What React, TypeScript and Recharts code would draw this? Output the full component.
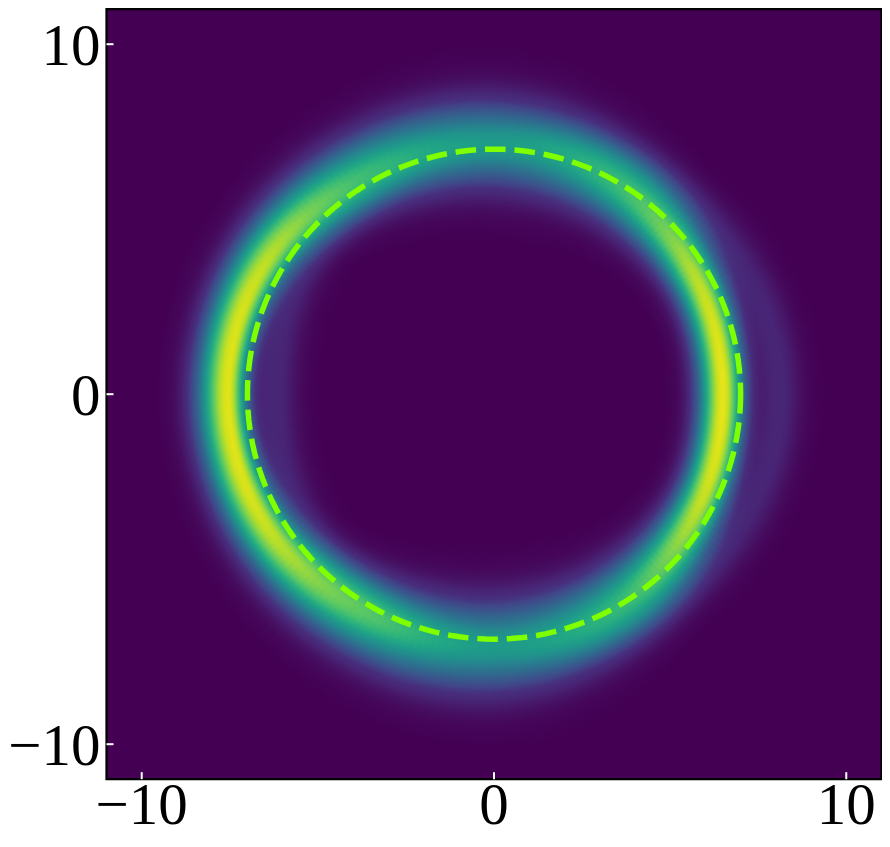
import { ScatterChart, Scatter, XAxis, YAxis, ReferenceArea } from 'recharts';

// axis setup
const DOMAIN: [number, number] = [-11, 11];
const AXIS_TICKS = [-10, 0, 10];

const ANGLES = [0, 30, 60, 90, 120, 150, 180, 210, 240, 270, 300, 330];
const RING_RADIUS = [6.5, 6.62, 6.9, 7.15, 7.3, 7.48, 7.55, 7.48, 7.3, 7.2, 6.95, 6.65];
const RING_PEAK = [0.97, 0.9, 0.66, 0.5, 0.64, 0.9, 0.96, 0.92, 0.7, 0.5, 0.64, 0.9];
const RING_WIDTH_IN = [0.47, 0.5, 0.68, 0.82, 0.7, 0.45, 0.37, 0.45, 0.72, 0.87, 0.72, 0.5];
const RING_WIDTH_OUT = [0.41, 0.47, 0.68, 0.82, 0.72, 0.62, 0.59, 0.62, 0.75, 0.87, 0.7, 0.47];

// faint second ring (outside on the right, inside on the left)
const HALO_RADIUS = [8.1, 7.95, 7.6, 7.2, 6.8, 6.45, 6.2, 6.45, 6.8, 7.2, 7.6, 7.95];
const HALO_PEAK = [0.11, 0.1, 0.08, 0.05, 0.08, 0.1, 0.11, 0.1, 0.08, 0.05, 0.08, 0.1];
const HALO_WIDTH = 0.42;

// radial falloff of the band, in units of its width
const FALLOFF_STEP = 0.25;
const FALLOFF = [1, 0.97, 0.88, 0.75, 0.61, 0.46, 0.32, 0.22, 0.14, 0.08, 0.044, 0.022, 0.011, 0.005, 0];

// dashed reference circle
const CIRCLE_RADIUS = 7;

const VIRIDIS = [
  '#440154', '#471365', '#482475', '#472f7d', '#414487', '#3b528b', '#355f8d',
  '#2f6c8e', '#2a788e', '#25858e', '#21918c', '#1e9c89', '#22a884', '#2fb47c',
  '#44bf70', '#5ec962', '#7ad151', '#9bd93c', '#bddf26', '#dde318', '#fde725',
];

const FONT = "'Liberation Serif', 'Times New Roman', serif";
const FIELD_EXTENT = 10;
const R_MIN = 4;
const R_STEP = 0.06;
const SECTORS = 240;

function hexRgb(h: string) {
  return [1, 3, 5].map((i) => parseInt(h.slice(i, i + 2), 16));
}
const VIRIDIS_RGB = VIRIDIS.map(hexRgb);

function viridis(v: number): string {
  const t = Math.max(0, Math.min(1, v)) * (VIRIDIS.length - 1);
  const i = Math.min(VIRIDIS.length - 2, Math.floor(t));
  const f = t - i;
  const a = VIRIDIS_RGB[i];
  const b = VIRIDIS_RGB[i + 1];
  const c = a.map((x, k) => Math.round(x + (b[k] - x) * f));
  return `rgb(${c[0]},${c[1]},${c[2]})`;
}

// smooth periodic lookup between the 30 degree samples
function around(values: number[], deg: number): number {
  const n = values.length;
  const step = 360 / n;
  const a = ((deg % 360) + 360) % 360;
  const i = Math.floor(a / step);
  const t = a / step - i;
  const p0 = values[(i - 1 + n) % n];
  const p1 = values[i % n];
  const p2 = values[(i + 1) % n];
  const p3 = values[(i + 2) % n];
  return 0.5 * (2 * p1 + (-p0 + p2) * t + (2 * p0 - 5 * p1 + 4 * p2 - p3) * t * t + (-p0 + 3 * p1 - 3 * p2 + p3) * t * t * t);
}

function falloff(d: number): number {
  const x = Math.abs(d) / FALLOFF_STEP;
  const i = Math.floor(x);
  if (i >= FALLOFF.length - 1) return 0;
  const f = x - i;
  return FALLOFF[i] + (FALLOFF[i + 1] - FALLOFF[i]) * f;
}

function density(r: number, deg: number): number {
  const rc = around(RING_RADIUS, deg);
  const pk = around(RING_PEAK, deg);
  const w = r < rc ? around(RING_WIDTH_IN, deg) : around(RING_WIDTH_OUT, deg);
  const hr = around(HALO_RADIUS, deg);
  const hp = around(HALO_PEAK, deg);
  return Math.min(1, pk * falloff((r - rc) / w) + hp * falloff((r - hr) / HALO_WIDTH));
}

// one annular sector per slice, coloured by a radial gradient (data units)
const FIELD = Array.from({ length: SECTORS }, (_, i) => {
  const span = 360 / SECTORS;
  const mid = (i + 0.5) * span;
  const a0 = ((i * span - 0.5) * Math.PI) / 180;
  const a1 = (((i + 1) * span + 0.5) * Math.PI) / 180;
  const stops: { offset: number; color: string }[] = [];
  for (let r = R_MIN; r <= FIELD_EXTENT + 1e-9; r += R_STEP) {
    stops.push({ offset: r / FIELD_EXTENT, color: viridis(density(r, mid)) });
  }
  const R = FIELD_EXTENT;
  const r0 = R_MIN;
  const d = [
    `M${r0 * Math.cos(a0)},${r0 * Math.sin(a0)}`,
    `L${R * Math.cos(a0)},${R * Math.sin(a0)}`,
    `A${R},${R} 0 0 1 ${R * Math.cos(a1)},${R * Math.sin(a1)}`,
    `L${r0 * Math.cos(a1)},${r0 * Math.sin(a1)}`,
    `A${r0},${r0} 0 0 0 ${r0 * Math.cos(a0)},${r0 * Math.sin(a0)}`,
    'Z',
  ].join(' ');
  return { id: `ring-${i}`, d, stops };
});

const circleData = Array.from({ length: 181 }, (_, i) => {
  const t = (i * 2 * Math.PI) / 180;
  return { x: CIRCLE_RADIUS * Math.cos(t), y: CIRCLE_RADIUS * Math.sin(t) };
});

function RingField(props: any) {
  const { x, y, width, height } = props;
  const kx = width / (2 * FIELD_EXTENT);
  const ky = height / (2 * FIELD_EXTENT);
  const ox = x + width / 2;
  const oy = y + height / 2;
  return (
    <g transform={`translate(${ox},${oy}) scale(${kx},${-ky})`}>
      <defs>
        {FIELD.map((s) => (
          <radialGradient key={s.id} id={s.id} gradientUnits="userSpaceOnUse" cx={0} cy={0} r={FIELD_EXTENT} fx={0} fy={0}>
            {s.stops.map((st, k) => (
              <stop key={k} offset={st.offset} stopColor={st.color} />
            ))}
          </radialGradient>
        ))}
      </defs>
      {FIELD.map((s) => (
        <path key={s.id} d={s.d} fill={`url(#${s.id})`} stroke="none" />
      ))}
    </g>
  );
}

function fmt(v: number): string {
  return v < 0 ? `\u2212${Math.abs(v)}` : String(v);
}

function XTick({ x, y, payload }: any) {
  return (
    <g>
      <line x1={x} y1={y} x2={x} y2={y - 7} stroke="#ffffff" strokeWidth={2} />
      <text x={x} y={y + 45} textAnchor="middle" fontSize={59} fontFamily={FONT} fill="#000">
        {fmt(payload.value)}
      </text>
    </g>
  );
}

function YTick({ x, y, payload }: any) {
  return (
    <g>
      <line x1={x} y1={y} x2={x + 7} y2={y} stroke="#ffffff" strokeWidth={2} />
      <text x={x - 6} y={y + 20.5} textAnchor="end" fontSize={59} fontFamily={FONT} fill="#000">
        {fmt(payload.value)}
      </text>
    </g>
  );
}

export default function App() {
  return (
    <div style={{ width: 882, height: 832 }}>
      <ScatterChart width={882} height={832} margin={{ top: 1.2, right: 8.5, bottom: 0, left: 0 }}>
        <ReferenceArea x1={DOMAIN[0]} x2={DOMAIN[1]} y1={DOMAIN[0]} y2={DOMAIN[1]} fill="#440154" fillOpacity={1} stroke="none" />
        <ReferenceArea
          x1={-FIELD_EXTENT}
          x2={FIELD_EXTENT}
          y1={-FIELD_EXTENT}
          y2={FIELD_EXTENT}
          shape={(p: any) => <RingField {...p} />}
        />
        <ReferenceArea x1={DOMAIN[0]} x2={DOMAIN[1]} y1={DOMAIN[0]} y2={DOMAIN[1]} fill="none" stroke="#000" strokeWidth={2.2} />
        <XAxis
          type="number"
          dataKey="x"
          domain={DOMAIN}
          ticks={AXIS_TICKS}
          interval={0}
          height={60.8}
          axisLine={false}
          tickLine={false}
          tickSize={0}
          tickMargin={0}
          tick={<XTick />}
          allowDataOverflow
        />
        <YAxis
          type="number"
          dataKey="y"
          domain={DOMAIN}
          ticks={AXIS_TICKS}
          interval={0}
          width={98.5}
          axisLine={false}
          tickLine={false}
          tickSize={0}
          tickMargin={0}
          tick={<YTick />}
          allowDataOverflow
        />
        <Scatter
          data={circleData}
          isAnimationActive={false}
          line={{ stroke: '#7fff00', strokeWidth: 5.5, strokeDasharray: '20.6 8.9', strokeDashoffset: 9 }}
          shape={() => <g />}
        />
      </ScatterChart>
    </div>
  );
}
